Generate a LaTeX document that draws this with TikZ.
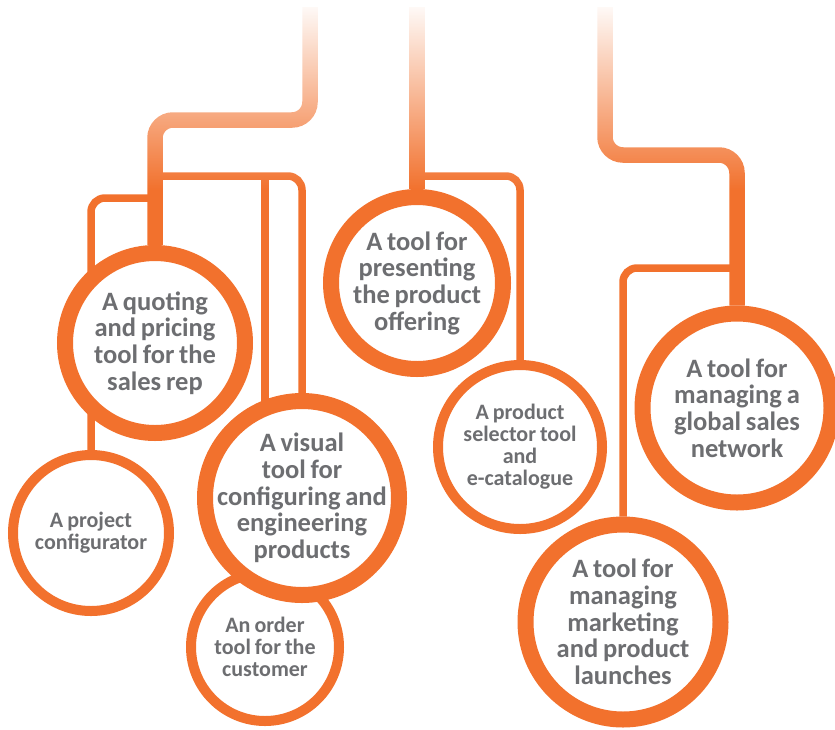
\documentclass[tikz,border=0pt]{standalone}
\usepackage{fontspec}
\setmainfont{Carlito}[WordSpace=0.8]
\usepackage{tikz}
\usetikzlibrary{fadings,backgrounds}
\definecolor{brandorange}{RGB}{242,113,45}
\definecolor{textgray}{RGB}{109,110,113}
\tikzfading[name=fade top,top color=transparent!0,bottom color=transparent!100]

\begin{document}
\begin{tikzpicture}[x=1pt,y=-1pt,
  trunk/.style={draw=brandorange,line width=15.5pt,rounded corners=18pt},
  twig/.style={draw=brandorange,line width=7.5pt,rounded corners=14pt},
  bigring/.style={circle,draw=brandorange,line width=16pt,fill=white,inner sep=0pt},
  smallring/.style={circle,draw=brandorange,line width=10pt,fill=white,inner sep=0pt},
  bigtxt/.style={align=center,text=textgray,font=\bfseries\fontsize{26.5}{26.7}\selectfont},
  smalltxt/.style={align=center,text=textgray,font=\bfseries\fontsize{22}{22}\selectfont}]
\useasboundingbox (0,0) rectangle (835,729);
\coordinate (t1) at (310,7);\coordinate (t2) at (417,7);\coordinate (t3) at (605,7);
\coordinate (k1) at (0,120);\coordinate (k3) at (0,155);
\coordinate (b1) at (0,176);\coordinate (b2) at (0,198);\coordinate (b3) at (0,268);
% rings
\node[smallring,minimum size=156pt] (Pc) at (91,533) {};
\node[bigring,minimum size=180pt] (Qt) at (155,343) {};
\node[smallring,minimum size=148pt] (Ot) at (265,647) {};
\node[bigring,minimum size=194pt] (Vt) at (302,498) {};
\node[bigring,minimum size=172pt] (Pr) at (417,283) {};
\node[smallring,minimum size=164pt] (Ps) at (520,447) {};
\node[bigring,minimum size=189pt] (Gs) at (737,408) {};
\node[bigring,minimum size=195pt] (Mk) at (623,622) {};
% labels
\node[bigtxt] (Qt-t) at (Qt) {A quoting\\and pricing\\tool for the\\sales rep};
\node[smalltxt] (Pc-t) at (Pc) {A project\\configurator};
\node[bigtxt] (Vt-t) at (Vt) {A visual\\tool for\\configuring and\\engineering\\products};
\node[smalltxt] (Ot-t) at (Ot) {An order\\tool for the\\customer};
\node[bigtxt] (Pr-t) at (Pr) {A tool for\\presenting\\the product\\offering};
\node[smalltxt] (Ps-t) at (Ps) {A product\\selector tool\\and\\e-catalogue};
\node[bigtxt] (Gs-t) at (Gs) {A tool for\\managing a\\global sales\\network};
\node[bigtxt] (Mk-t) at (Mk) {A tool for\\managing\\marketing\\and product\\launches};
% stems
\begin{scope}[on background layer]
\draw[trunk] (t1) |- (Qt |- k1) -- (Qt);
\draw[trunk] (t2) -- (Pr);
\draw[trunk] (t3) |- (Gs |- k3) -- (Gs);
\draw[twig] (Qt |- b1) -| (Vt);\draw[twig] (Ot |- b1) -- (Ot);
\draw[twig] (Qt |- b2) -| (Pc);
\draw[twig] (Pr |- b1) -| (Ps);
\draw[twig] (Gs |- b3) -| (Mk);
\end{scope}
\fill[white,path fading=fade top] (0,0) rectangle (835,190);
\end{tikzpicture}
\end{document}
